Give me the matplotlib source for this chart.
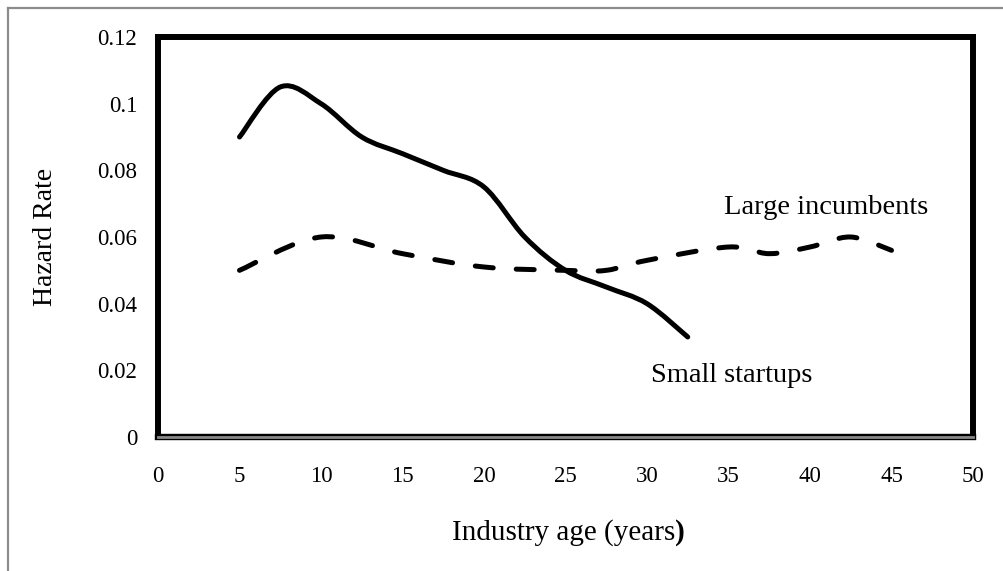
import numpy as np
import matplotlib
matplotlib.use("Agg")
import matplotlib.pyplot as plt
from matplotlib.path import Path
from matplotlib.patches import PathPatch
from matplotlib.lines import Line2D
from matplotlib.ticker import FuncFormatter

# ---- data ----
startup_age = [5, 7.5, 10, 12.5, 15, 17.5, 20, 22.5, 25, 27.5, 30, 32.5]
startup_hazard = [0.09, 0.105, 0.1, 0.09, 0.085, 0.08, 0.075, 0.06, 0.05, 0.045, 0.04, 0.03]

incumbent_age = [5, 10, 15, 20, 25, 27.5, 30, 35, 37.5, 40, 42.5, 45]
incumbent_hazard = [0.05, 0.06, 0.055, 0.051, 0.05, 0.05, 0.053, 0.057, 0.055, 0.057, 0.06, 0.056]

x_ticks = [0, 5, 10, 15, 20, 25, 30, 35, 40, 45, 50]
y_ticks = [0, 0.02, 0.04, 0.06, 0.08, 0.1, 0.12]

x_label = "Industry age (years"
y_label = "Hazard Rate"
label_startups = "Small startups"
label_incumbents = "Large incumbents"

FONT = "Liberation Serif"


def smooth_path(xs, ys):
    """Excel-style smoothed line: cubic Bezier segments through the data points."""
    pts = np.column_stack([xs, ys]).astype(float)
    n = len(pts)
    verts = [pts[0]]
    codes = [Path.MOVETO]
    for i in range(n - 1):
        p0 = pts[i - 1] if i > 0 else pts[i]
        p1 = pts[i]
        p2 = pts[i + 1]
        p3 = pts[i + 2] if i + 2 < n else pts[i + 1]
        c1 = p1 + (p2 - p0) / 6.0
        c2 = p2 - (p3 - p1) / 6.0
        verts += [c1, c2, p2]
        codes += [Path.CURVE4] * 3
    return Path(verts, codes)


fig = plt.figure(figsize=(10.04, 5.71), dpi=100)
fig.patch.set_facecolor("white")

# outer chart-area border (gray, left and top visible)
W, H = 1004, 571
fig.add_artist(Line2D([8 / W, 8 / W], [0, 1 - 8 / H], transform=fig.transFigure,
                      color="#8c8c8c", lw=1.6))
fig.add_artist(Line2D([8 / W, 1], [1 - 8 / H, 1 - 8 / H], transform=fig.transFigure,
                      color="#8c8c8c", lw=1.6))

ax = fig.add_axes([158 / W, (H - 437) / H, (973 - 158) / W, (437 - 37) / H])
ax.set_xlim(0, 50)
ax.set_ylim(0, 0.12)

# series
solid = PathPatch(smooth_path(startup_age, startup_hazard), facecolor="none",
                  edgecolor="black", lw=3.6, capstyle="round", joinstyle="round", zorder=3)
ax.add_patch(solid)
dashed = PathPatch(smooth_path(incumbent_age, incumbent_hazard), facecolor="none",
                   edgecolor="black", lw=3.6, capstyle="round", joinstyle="round",
                   linestyle=(0, (3.6, 4.6)), zorder=3)
ax.add_patch(dashed)

# spines
for s in ["left", "top", "right"]:
    ax.spines[s].set_linewidth(4.3)
    ax.spines[s].set_color("black")
    ax.spines[s].set_capstyle("projecting")
ax.spines["bottom"].set_linewidth(4.6)
ax.spines["bottom"].set_color("black")
ax.spines["bottom"].set_zorder(4)
ax.add_line(Line2D([0, 50], [0, 0], color="#8a8a8a", lw=2.0, zorder=5, clip_on=False))

# ticks
ax.set_xticks(x_ticks)
ax.set_yticks(y_ticks)
ax.yaxis.set_major_formatter(FuncFormatter(lambda v, p: f"{v:g}"))
ax.tick_params(axis="both", length=0, labelsize=16.5, colors="black")
ax.tick_params(axis="y", pad=15)
ax.tick_params(axis="x", pad=21)
for lab in ax.get_xticklabels() + ax.get_yticklabels():
    lab.set_fontfamily(FONT)

# axis titles
ax.set_ylabel(y_label, fontsize=20, fontfamily=FONT)
ax.yaxis.set_label_coords((58 - 158) / 815, 0.5)
fig.text(675 / W, 1 - 533 / H, x_label, ha="right", va="center",
         fontsize=21, fontfamily=FONT)
fig.text(675 / W, 1 - 533 / H, ")", ha="left", va="center",
         fontsize=21, fontfamily=FONT, fontweight="bold")

# annotations
ax.text(41.0, 0.0687, label_incumbents, ha="center", va="center",
        fontsize=20.5, fontfamily=FONT)
ax.text(35.2, 0.0186, label_startups, ha="center", va="center",
        fontsize=20.5, fontfamily=FONT)

fig.savefig("out.png", dpi=100, facecolor="white")
